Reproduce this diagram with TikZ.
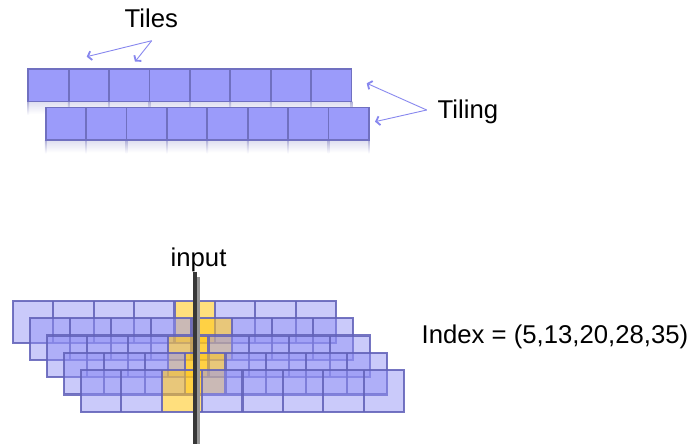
\documentclass[tikz,border=0pt]{standalone}
\usepackage{fontspec}
\setmainfont{Liberation Sans}
\usetikzlibrary{arrows.meta}
\definecolor{tilefill}{RGB}{155,155,250}
\definecolor{tileedge}{RGB}{112,112,192}
\definecolor{glassfill}{RGB}{145,145,245}
\definecolor{glassedge}{RGB}{98,98,185}
\definecolor{hotfill}{RGB}{255,198,26}
\definecolor{reflect}{RGB}{222,222,240}
\definecolor{reflectline}{RGB}{175,175,215}
\definecolor{pointerc}{RGB}{135,135,238}
\definecolor{probe}{RGB}{55,55,55}
\definecolor{probeshade}{RGB}{150,150,150}
\tikzset{
  lbl/.style={inner sep=0pt, font=\fontsize{25.7}{30}\selectfont},
  toptile/.style={rectangle, draw=tileedge, fill=tilefill, line width=1.8pt,
    minimum width=40.4pt, minimum height=32.5pt, inner sep=0pt, outer sep=0pt},
  glasstile/.style={rectangle, fill=glassfill, fill opacity=0.48,
    minimum width=40.45pt, minimum height=41.7pt, inner sep=0pt, outer sep=0pt},
  hottile/.style={glasstile, fill=hotfill, fill opacity=0.57},
  glassgrid/.style={draw=glassedge, draw opacity=0.88, line width=2.1pt},
  pointer/.style={draw=pointerc, line width=0.9pt,
    -{Straight Barb[length=3.5pt,width=9pt,line width=1.8pt]}}
}
\begin{document}
\begin{tikzpicture}[x=1pt,y=-1pt]
\useasboundingbox (0,0) rectangle (690,444);

% ---- two single tilings with a soft reflection underneath ----
\foreach \r/\x/\y in {1/28.3/69, 2/45.7/107.5} {
  \shade[top color=reflect, bottom color=white]
    (\x,\y+32.5) rectangle (\x+323.2,\y+45);
  \foreach \i in {0,...,8}
    \shade[top color=reflectline, bottom color=white]
      (\x+\i*40.4-0.8,\y+32.5) rectangle (\x+\i*40.4+0.8,\y+46);
  \foreach \i in {1,...,8}
    \node[toptile] (r\r-\i) at (\x+\i*40.4-20.2,\y+16.25) {};
}

% ---- labels and pointers ----
\node[lbl, anchor=base west] (tiles) at (124.5,27.3) {Tiles};
\node[lbl, anchor=base west] (tiling) at (437.5,118.3) {Tiling};
\coordinate (tilesfrom) at (151.7,40.7);
\coordinate (tilesto1) at (86.7,56.7);
\coordinate (tilesto2) at (135,61.7);
\coordinate (tilingfrom) at (426.7,110);
\coordinate (tilingto1) at (366.7,83.3);
\coordinate (tilingto2) at (375,121.7);
\draw[pointer] (tilesfrom) -- (tilesto1);
\draw[pointer] (tilesfrom) -- (tilesto2);
\draw[pointer] (tilingfrom) -- (tilingto1);
\draw[pointer] (tilingfrom) -- (tilingto2);

% ---- five overlapping tilings, active tile highlighted ----
\foreach \k/\a in {0/5, 1/5, 2/4, 3/4, 4/3} {
  \pgfmathsetmacro{\xo}{12.7+17*\k}
  \pgfmathsetmacro{\yo}{301+17.25*\k}
  \foreach \i in {1,...,8} {
    \ifnum\i=\a\relax
      \node[hottile] (b\k-\i) at (\xo+\i*40.45-20.225,\yo+20.85) {};
    \else
      \node[glasstile] (b\k-\i) at (\xo+\i*40.45-20.225,\yo+20.85) {};
    \fi
  }
  \draw[glassgrid] (b\k-1.north west) rectangle (b\k-8.south east);
  \foreach \i in {1,...,7}
    \draw[glassgrid] (b\k-\i.north east) -- (b\k-\i.south east);
}

% ---- input probe ----
\node[lbl, anchor=base west] (input) at (170.5,266.7) {input};
\coordinate (probetop) at (194.7,271.5);
\coordinate (probebot) at (194.7,444);
\coordinate (shadetop) at (198.3,277);
\coordinate (shadebot) at (198.3,444);
\draw[probeshade, line width=3.3pt] (shadetop) -- (shadebot);
\draw[probe, line width=3.8pt] (probetop) -- (probebot);

\node[lbl, anchor=base west] (index) at (421.5,343.3) {Index = (5,13,20,28,35)};
\end{tikzpicture}
\end{document}
